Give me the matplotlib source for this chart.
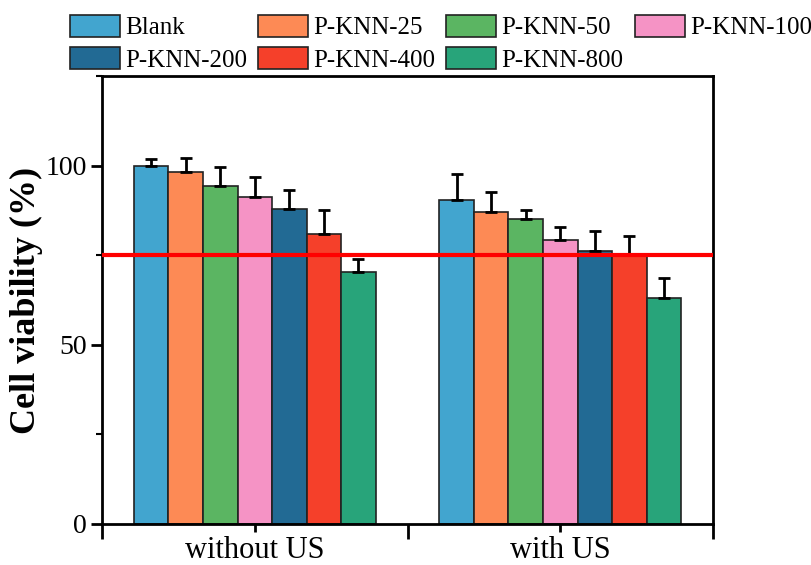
import numpy as np
import matplotlib
matplotlib.use("Agg")
import matplotlib.pyplot as plt
from matplotlib.ticker import MultipleLocator, FixedLocator

plt.rcParams['font.family'] = ['Liberation Serif', 'DejaVu Serif']

groups = ["without US", "with US"]
series = ["Blank", "P-KNN-25", "P-KNN-50", "P-KNN-100", "P-KNN-200", "P-KNN-400", "P-KNN-800"]
colors = ["#42A5CF", "#FD8A55", "#5BB562", "#F593C5", "#226A94", "#F5402A", "#28A47A"]

# values per series: [without US, with US]
means = [
    [100.0, 90.5],
    [98.2, 87.1],
    [94.2, 85.2],
    [91.1, 79.1],
    [87.9, 76.2],
    [80.8, 75.0],
    [70.3, 63.0],
]
errs = [
    [1.7, 7.2],
    [3.8, 5.5],
    [5.3, 2.4],
    [5.6, 3.8],
    [5.4, 5.6],
    [6.7, 5.3],
    [3.7, 5.6],
]
threshold = 75

fig = plt.figure(figsize=(8.11, 5.65), dpi=100)
ax = fig.add_axes([0.1258, 0.0726, 0.7534, 0.793])

x = np.arange(len(groups))
w = 0.113
n = len(series)
handles = []
for i in range(n):
    pos = x + (i - (n - 1) / 2) * w
    b = ax.bar(pos, means[i], w, color=colors[i], edgecolor="#222222", linewidth=1.2,
               label=series[i], zorder=2)
    ax.errorbar(pos, means[i], yerr=[np.zeros(len(groups)), errs[i]], fmt="none",
                ecolor="black", elinewidth=2, capsize=4, capthick=2, zorder=3)
    handles.append(b)

ax.axhline(threshold, color="#FF0000", linewidth=3, zorder=4)

ax.set_xlim(-0.5, 1.5)
ax.set_ylim(0, 125)
ax.set_xticks(x)
ax.set_xticklabels(groups, fontsize=22)
ax.xaxis.set_minor_locator(FixedLocator([-0.5, 0.5, 1.5]))
ax.yaxis.set_major_locator(MultipleLocator(50))
ax.yaxis.set_minor_locator(MultipleLocator(25))
ax.tick_params(axis="y", labelsize=20, width=2, length=8, direction="out", pad=3)
ax.tick_params(axis="y", which="minor", width=1.5, length=4)
ax.tick_params(axis="x", width=2, length=6, direction="out", pad=3)
ax.tick_params(axis="x", which="minor", width=2, length=11, direction="out")
for s in ax.spines.values():
    s.set_linewidth(2)
ax.set_ylabel("Cell viability (%)", fontsize=26, fontweight="bold", labelpad=2)

order = [0, 4, 1, 5, 2, 6, 3]
fig.legend([handles[k] for k in order], [series[k] for k in order], ncol=4,
           loc="upper left", bbox_to_anchor=(0.0863, 0.974), frameon=False,
           fontsize=18, handlelength=2.0, handleheight=1.0, handletextpad=0.2,
           columnspacing=0.45, labelspacing=0.3, borderpad=0, borderaxespad=0)

fig.savefig("out.png", dpi=100)
